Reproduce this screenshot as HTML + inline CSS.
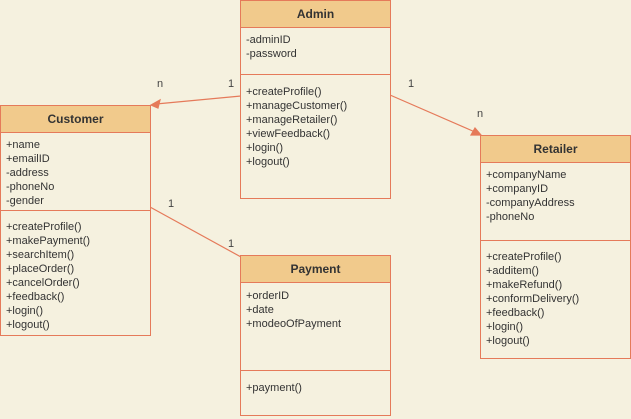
<!DOCTYPE html>
<html><head><style>
body{margin:0;width:631px;height:419px;background:#f5f1df;overflow:hidden;position:relative;font-family:"Liberation Sans",sans-serif;}
.box{position:absolute;border:1px solid #e57a5a;background:#f5f1df;box-sizing:border-box;}
.hd{background:#f1ca8c;border-bottom:1px solid #e57a5a;height:27px;box-sizing:border-box;text-align:center;font-weight:bold;font-size:12px;color:#333;line-height:26px;}
.sec{position:absolute;left:0;right:0;font-size:11px;color:#333;line-height:14px;padding-left:5px;}
.sep{position:absolute;left:0;right:0;border-top:1px solid #e57a5a;}
.lbl{position:absolute;font-size:11px;color:#444;}
</style></head><body>
<svg width="631" height="419" style="position:absolute;left:0;top:0">
<g stroke="#e57a5a" stroke-width="1.2" fill="#e57a5a">
<line x1="241" y1="96" x2="156" y2="104"/>
<polygon points="151,105 160,100 158,108"/>
<line x1="390" y1="95" x2="475" y2="132"/>
<polygon points="481,135 471,135 475,128"/>
<line x1="150" y1="207" x2="241" y2="257"/>
</g></svg>
<div class="box" style="left:240px;top:0;width:151px;height:199px">
<div class="hd">Admin</div>
<div class="sec" style="top:32px">-adminID<br>-password</div>
<div class="sep" style="top:73px"></div>
<div class="sec" style="top:84px">+createProfile()<br>+manageCustomer()<br>+manageRetailer()<br>+viewFeedback()<br>+login()<br>+logout()</div>
</div>
<div class="box" style="left:0;top:105px;width:151px;height:231px">
<div class="hd">Customer</div>
<div class="sec" style="top:32px">+name<br>+emailID<br>-address<br>-phoneNo<br>-gender</div>
<div class="sep" style="top:104px"></div>
<div class="sec" style="top:114px">+createProfile()<br>+makePayment()<br>+searchItem()<br>+placeOrder()<br>+cancelOrder()<br>+feedback()<br>+login()<br>+logout()</div>
</div>
<div class="box" style="left:480px;top:135px;width:151px;height:224px">
<div class="hd">Retailer</div>
<div class="sec" style="top:32px">+companyName<br>+companyID<br>-companyAddress<br>-phoneNo</div>
<div class="sep" style="top:104px"></div>
<div class="sec" style="top:114px">+createProfile()<br>+additem()<br>+makeRefund()<br>+conformDelivery()<br>+feedback()<br>+login()<br>+logout()</div>
</div>
<div class="box" style="left:240px;top:255px;width:151px;height:161px">
<div class="hd">Payment</div>
<div class="sec" style="top:33px">+orderID<br>+date<br>+modeoOfPayment</div>
<div class="sep" style="top:114px"></div>
<div class="sec" style="top:125px">+payment()</div>
</div>
<div class="lbl" style="left:157px;top:78px">n</div>
<div class="lbl" style="left:228px;top:78px">1</div>
<div class="lbl" style="left:408px;top:78px">1</div>
<div class="lbl" style="left:477px;top:108px">n</div>
<div class="lbl" style="left:168px;top:198px">1</div>
<div class="lbl" style="left:228px;top:238px">1</div>
</body></html>
